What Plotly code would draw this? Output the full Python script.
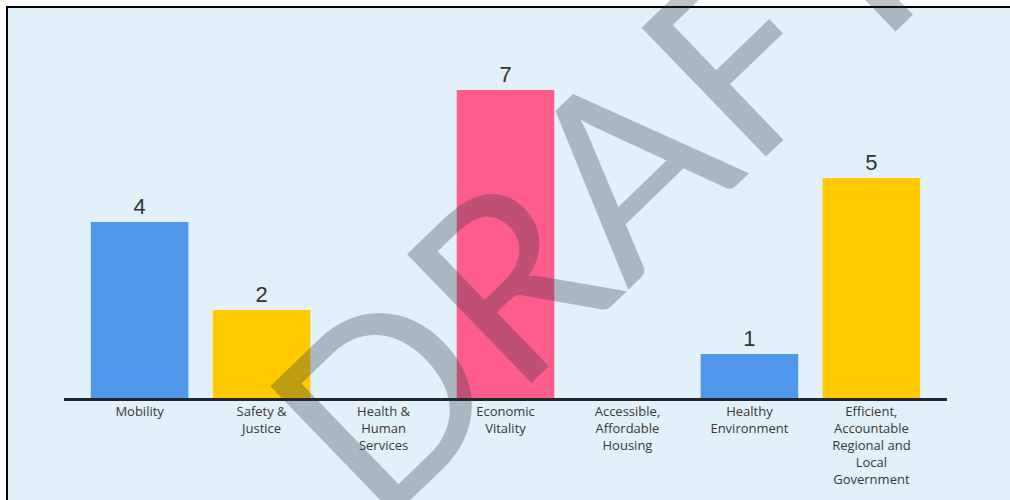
import plotly.graph_objects as go

# Goal areas and the number of items under each
categories = [
    "Mobility",
    "Safety &<br>Justice",
    "Health &<br>Human<br>Services",
    "Economic<br>Vitality",
    "Accessible,<br>Affordable<br>Housing",
    "Healthy<br>Environment",
    "Efficient,<br>Accountable<br>Regional and<br>Local<br>Government",
]
counts = [4, 2, 0, 7, 0, 1, 5]
bar_colors = ["#4f97ea", "#ffca00", "#4f97ea", "#ff5c8e", "#4f97ea", "#4f97ea", "#ffca00"]

W, H = 1010, 500
L, R, T, B = 64, 63, 8, 102
plot_w, plot_h = W - L - R, H - T - B


def px_x(p):
    return (p - L) / plot_w


def px_y(p):
    return (H - B - p) / plot_h


fig = go.Figure(
    go.Bar(
        x=list(range(len(categories))),
        y=counts,
        marker=dict(color=bar_colors, line=dict(width=0)),
        text=[str(v) if v else "" for v in counts],
        textposition="outside",
        textfont=dict(family="Liberation Sans", size=22, color="#333333"),
        cliponaxis=False,
        width=0.8,
    )
)

fig.update_layout(
    width=W,
    height=H,
    margin=dict(l=L, r=R, t=T, b=B),
    paper_bgcolor="#ffffff",
    plot_bgcolor="rgba(0,0,0,0)",
    showlegend=False,
    xaxis=dict(
        range=[-0.62, 6.62],
        tickmode="array",
        tickvals=list(range(len(categories))),
        ticktext=categories,
        tickfont=dict(family="Open Sans", size=13, color="#383838"),
        showline=True,
        linecolor="#1f262c",
        linewidth=2.5,
        showgrid=False,
        zeroline=False,
        ticks="",
        fixedrange=True,
    ),
    yaxis=dict(
        range=[0, plot_h / 44.0],
        visible=False,
        fixedrange=True,
    ),
    shapes=[
        # framed light-blue panel
        dict(
            type="rect",
            xref="paper",
            yref="paper",
            x0=px_x(7),
            x1=px_x(1030),
            y0=px_y(520),
            y1=px_y(7),
            fillcolor="#e2f0fa",
            line=dict(color="#000000", width=2),
            layer="below",
        )
    ],
    annotations=[
        dict(
            text="DRAFT",
            xref="paper",
            yref="paper",
            x=px_x(600),
            y=px_y(182),
            xanchor="center",
            yanchor="middle",
            showarrow=False,
            textangle=-44,
            font=dict(family="Lato", size=250, color="rgba(44,52,58,0.3)"),
        )
    ],
)

fig.write_html("out.html")
